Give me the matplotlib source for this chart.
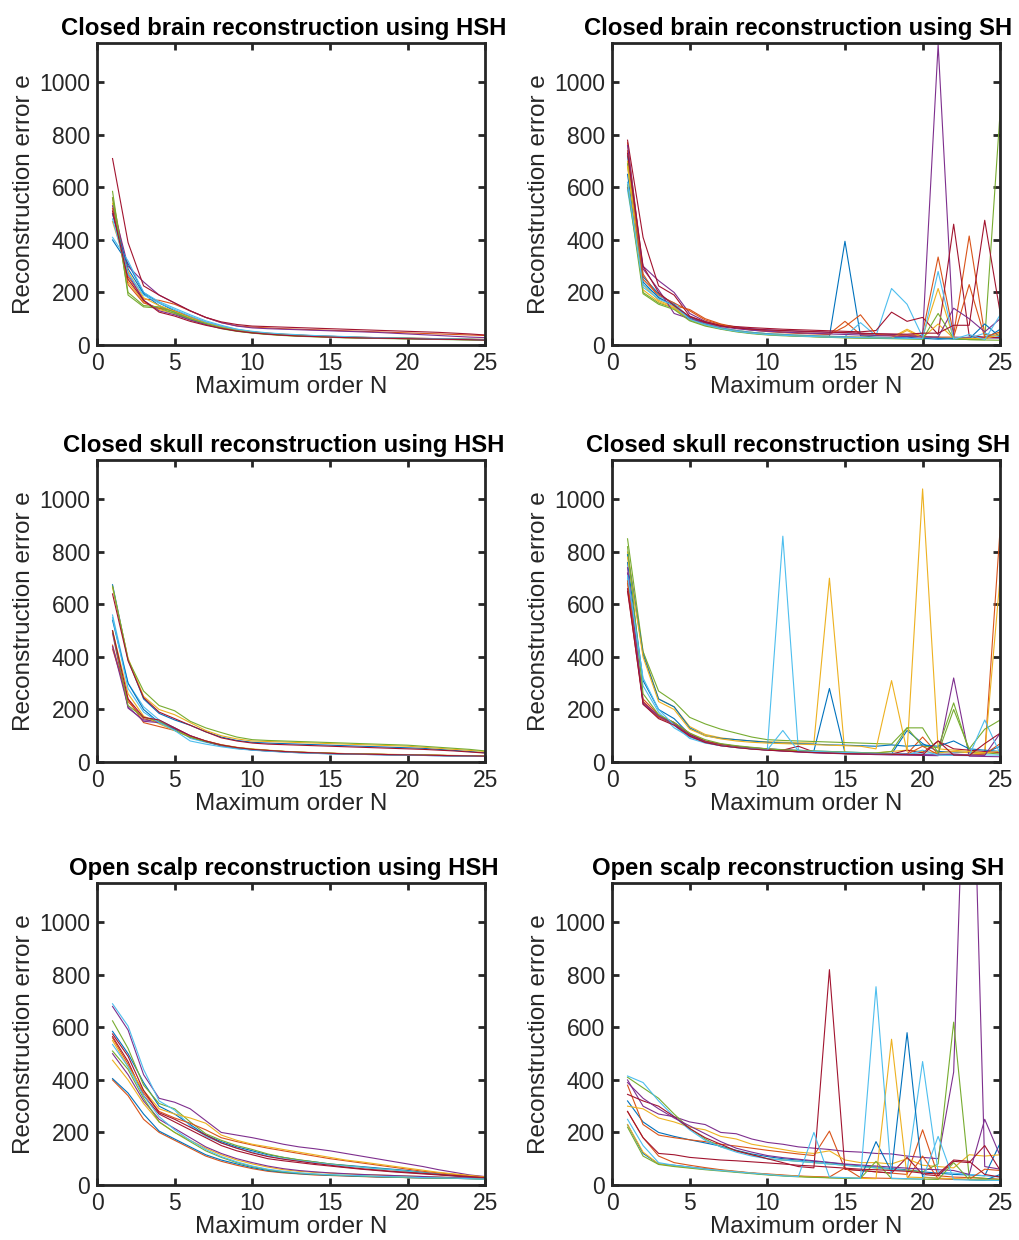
import numpy as np
import matplotlib
matplotlib.use("Agg")
import matplotlib.pyplot as plt

plt.rcParams['font.family'] = ['Liberation Sans', 'DejaVu Sans']

# maximum order N
orders = np.arange(1, 26)

# MATLAB default line colours
matlab_colors = ['#0072BD', '#D95319', '#EDB120', '#7E2F8E', '#77AC30', '#4DBEEE', '#A2142F']

titles = ['Closed brain reconstruction using HSH', 'Closed brain reconstruction using SH',
          'Closed skull reconstruction using HSH', 'Closed skull reconstruction using SH',
          'Open scalp reconstruction using HSH', 'Open scalp reconstruction using SH']

brain_hsh = [
    [400, 310, 200, 160, 130, 105, 85, 68, 55, 47, 42, 38, 35, 33, 31, 29, 27, 26, 25, 24, 23, 22, 21, 20, 19],
    [560, 260, 175, 170, 155, 130, 105, 85, 73, 68, 65, 62, 60, 58, 56, 54, 52, 50, 48, 46, 44, 42, 40, 38, 36],
    [540, 240, 165, 135, 120, 100, 80, 65, 53, 46, 41, 37, 34, 32, 30, 28, 27, 26, 25, 24, 23, 22, 21, 20, 19],
    [530, 300, 240, 190, 160, 130, 105, 85, 72, 65, 62, 60, 58, 56, 54, 52, 50, 48, 45, 42, 39, 36, 33, 30, 28],
    [585, 190, 145, 140, 120, 95, 78, 62, 52, 45, 40, 36, 33, 31, 29, 27, 26, 25, 24, 23, 22, 21, 20, 19, 18],
    [410, 320, 200, 165, 140, 115, 92, 75, 60, 50, 44, 40, 37, 34, 32, 30, 28, 27, 26, 25, 24, 23, 22, 21, 20],
    [710, 390, 225, 190, 160, 130, 105, 88, 78, 72, 70, 68, 66, 64, 62, 60, 58, 56, 54, 52, 50, 48, 45, 42, 38],
    [500, 290, 195, 150, 125, 100, 82, 66, 55, 48, 43, 40, 37, 35, 33, 31, 29, 27, 26, 25, 24, 23, 22, 21, 20],
    [520, 230, 160, 140, 130, 108, 86, 70, 58, 50, 45, 41, 38, 35, 33, 31, 29, 28, 27, 26, 25, 24, 23, 22, 21],
    [470, 280, 180, 150, 128, 104, 84, 68, 56, 49, 44, 40, 37, 34, 32, 30, 29, 28, 27, 26, 25, 24, 23, 22, 21],
    [500, 270, 170, 130, 115, 95, 78, 64, 54, 47, 42, 38, 35, 33, 31, 29, 28, 27, 26, 25, 24, 23, 22, 21, 20],
    [560, 200, 150, 145, 125, 100, 82, 66, 55, 47, 42, 38, 35, 33, 31, 29, 28, 27, 26, 25, 24, 23, 22, 21, 20],
    [480, 270, 190, 160, 135, 110, 88, 72, 60, 52, 46, 42, 39, 36, 34, 32, 30, 28, 27, 26, 25, 24, 23, 22, 21],
    [510, 250, 170, 125, 110, 90, 75, 63, 53, 46, 41, 37, 34, 32, 30, 28, 27, 26, 25, 24, 23, 22, 21, 20, 19],
]

brain_sh = [
    [720, 260, 195, 155, 105, 82, 65, 55, 48, 43, 40, 37, 35, 33, 395, 35, 30, 28, 26, 35, 25, 24, 30, 22, 60],
    [770, 270, 180, 150, 135, 100, 80, 68, 60, 54, 50, 47, 45, 42, 90, 40, 38, 36, 34, 45, 335, 40, 415, 40, 35],
    [700, 230, 170, 145, 100, 80, 65, 55, 48, 43, 40, 37, 35, 33, 31, 30, 29, 28, 60, 30, 215, 25, 24, 23, 45],
    [600, 300, 245, 200, 120, 90, 75, 68, 62, 58, 55, 52, 50, 48, 46, 44, 42, 40, 38, 36, 1145, 30, 28, 27, 26],
    [690, 200, 160, 140, 95, 75, 62, 52, 45, 40, 37, 34, 32, 30, 28, 27, 26, 25, 24, 23, 30, 22, 21, 20, 895],
    [590, 230, 185, 160, 100, 80, 65, 55, 48, 43, 40, 37, 35, 33, 32, 85, 35, 215, 155, 30, 28, 26, 25, 45, 30],
    [780, 410, 225, 190, 110, 88, 75, 70, 66, 63, 60, 58, 56, 54, 52, 50, 55, 125, 90, 105, 40, 460, 35, 30, 28],
    [650, 240, 180, 150, 100, 78, 63, 53, 46, 41, 38, 35, 33, 31, 30, 29, 28, 27, 26, 25, 22, 24, 23, 80, 30],
    [740, 250, 190, 160, 130, 95, 78, 65, 57, 51, 47, 44, 42, 40, 70, 115, 40, 36, 34, 32, 30, 30, 230, 30, 50],
    [680, 210, 165, 140, 98, 76, 62, 52, 45, 40, 37, 34, 32, 30, 29, 28, 27, 26, 55, 28, 80, 26, 25, 24, 40],
    [760, 290, 210, 120, 100, 85, 70, 62, 56, 52, 49, 46, 44, 42, 40, 38, 36, 34, 32, 30, 30, 140, 100, 50, 100],
    [610, 195, 155, 135, 92, 72, 60, 50, 43, 38, 35, 33, 31, 29, 27, 26, 25, 24, 23, 22, 120, 25, 20, 19, 18],
    [620, 220, 175, 150, 98, 77, 62, 52, 45, 40, 37, 34, 32, 30, 29, 28, 27, 26, 25, 24, 280, 22, 40, 20, 115],
    [730, 300, 200, 150, 108, 86, 72, 65, 60, 57, 55, 53, 51, 49, 47, 45, 43, 42, 41, 45, 45, 75, 75, 475, 120],
]

skull_hsh = [
    [675, 390, 240, 185, 160, 140, 115, 95, 82, 75, 72, 70, 68, 66, 64, 62, 60, 58, 56, 54, 52, 48, 44, 40, 35],
    [445, 230, 165, 150, 125, 95, 78, 62, 52, 46, 42, 39, 36, 34, 32, 31, 30, 29, 28, 27, 26, 25, 24, 23, 22],
    [665, 395, 250, 200, 180, 150, 120, 100, 88, 80, 78, 76, 74, 72, 70, 68, 66, 64, 62, 60, 56, 52, 48, 44, 40],
    [490, 205, 160, 155, 130, 100, 80, 65, 55, 48, 44, 40, 37, 35, 33, 31, 30, 29, 28, 27, 26, 25, 24, 23, 22],
    [670, 390, 270, 215, 195, 155, 130, 112, 95, 85, 82, 80, 78, 76, 74, 72, 70, 68, 66, 64, 60, 56, 52, 48, 42],
    [560, 300, 210, 160, 130, 90, 75, 62, 52, 46, 42, 38, 35, 33, 31, 30, 29, 28, 27, 26, 25, 24, 23, 22, 21],
    [640, 385, 245, 190, 165, 140, 115, 92, 80, 72, 68, 66, 64, 62, 60, 58, 56, 54, 52, 50, 48, 45, 42, 38, 34],
    [540, 300, 200, 150, 125, 95, 78, 63, 53, 47, 43, 40, 37, 35, 33, 31, 30, 29, 28, 27, 26, 25, 24, 23, 22],
    [430, 240, 150, 135, 120, 95, 80, 64, 55, 48, 44, 40, 37, 35, 33, 31, 30, 29, 28, 27, 26, 25, 24, 23, 22],
    [500, 260, 175, 145, 120, 98, 80, 66, 56, 50, 45, 41, 38, 36, 34, 32, 31, 30, 29, 28, 27, 26, 25, 24, 23],
    [440, 210, 155, 150, 128, 100, 78, 62, 52, 46, 42, 39, 36, 34, 32, 30, 29, 28, 27, 26, 25, 24, 23, 22, 21],
    [500, 215, 170, 155, 120, 95, 78, 64, 54, 48, 44, 40, 37, 35, 33, 31, 30, 29, 28, 27, 26, 25, 24, 23, 22],
    [550, 280, 190, 150, 120, 80, 68, 58, 50, 45, 41, 38, 35, 33, 31, 30, 29, 28, 27, 26, 25, 24, 23, 22, 21],
    [500, 240, 170, 160, 130, 100, 80, 65, 55, 48, 44, 40, 37, 35, 33, 31, 30, 29, 28, 27, 26, 25, 24, 23, 22],
]

skull_sh = [
    [760, 310, 200, 165, 105, 80, 68, 60, 54, 50, 47, 44, 42, 280, 35, 33, 32, 30, 120, 70, 40, 38, 36, 34, 60],
    [680, 240, 180, 150, 110, 80, 68, 60, 54, 50, 46, 43, 40, 38, 36, 34, 33, 32, 31, 95, 30, 29, 28, 30, 895],
    [800, 420, 240, 210, 135, 105, 92, 85, 80, 77, 75, 73, 72, 700, 30, 30, 35, 40, 45, 40, 35, 40, 35, 30, 710],
    [720, 220, 170, 145, 100, 75, 62, 55, 50, 45, 42, 38, 35, 33, 31, 30, 28, 27, 26, 25, 24, 320, 22, 21, 20],
    [850, 420, 270, 230, 170, 145, 125, 110, 95, 85, 82, 80, 78, 76, 74, 72, 70, 68, 130, 60, 55, 225, 40, 35, 30],
    [700, 290, 190, 130, 95, 75, 65, 58, 52, 48, 860, 45, 42, 40, 38, 36, 34, 33, 32, 31, 30, 29, 28, 27, 26],
    [650, 230, 175, 150, 105, 78, 66, 58, 52, 48, 45, 60, 38, 35, 33, 32, 31, 30, 45, 35, 80, 50, 45, 40, 35],
    [790, 410, 240, 210, 130, 100, 90, 85, 80, 75, 72, 70, 68, 65, 64, 62, 60, 65, 60, 65, 60, 80, 50, 45, 40],
    [690, 230, 170, 145, 100, 76, 64, 56, 50, 46, 43, 40, 38, 36, 34, 33, 32, 30, 29, 60, 28, 27, 26, 30, 70],
    [780, 400, 230, 200, 125, 100, 88, 80, 75, 72, 70, 68, 66, 64, 62, 60, 50, 310, 40, 1040, 50, 45, 40, 35, 40],
    [740, 225, 175, 145, 102, 76, 63, 56, 50, 46, 42, 39, 36, 34, 32, 30, 29, 28, 30, 28, 27, 30, 26, 25, 110],
    [820, 260, 180, 150, 110, 85, 70, 62, 56, 50, 46, 44, 42, 40, 38, 36, 34, 40, 130, 130, 35, 200, 50, 125, 160],
    [710, 320, 200, 140, 90, 72, 62, 55, 50, 46, 120, 42, 40, 38, 36, 34, 32, 30, 28, 45, 26, 25, 24, 160, 30],
    [660, 220, 165, 140, 98, 74, 62, 55, 49, 45, 42, 39, 36, 34, 32, 31, 30, 29, 28, 27, 80, 26, 25, 70, 110],
]

scalp_hsh = [
    [585, 500, 390, 300, 270, 230, 190, 165, 145, 130, 115, 105, 95, 88, 80, 75, 70, 65, 60, 55, 48, 42, 36, 30, 25],
    [400, 340, 250, 200, 170, 140, 110, 90, 75, 62, 52, 46, 42, 38, 36, 34, 32, 30, 29, 28, 27, 26, 25, 24, 23],
    [475, 400, 310, 240, 200, 170, 140, 115, 95, 80, 68, 58, 52, 48, 45, 42, 40, 38, 36, 34, 32, 30, 28, 26, 25],
    [680, 590, 420, 330, 315, 290, 245, 200, 190, 180, 168, 155, 145, 138, 130, 120, 110, 100, 90, 80, 70, 58, 48, 38, 32],
    [625, 520, 380, 310, 290, 240, 195, 170, 150, 135, 118, 105, 96, 88, 80, 74, 68, 62, 58, 52, 46, 40, 35, 30, 25],
    [690, 605, 440, 320, 285, 225, 185, 160, 140, 125, 110, 100, 92, 85, 78, 72, 68, 62, 58, 52, 46, 40, 34, 28, 24],
    [565, 470, 340, 270, 240, 210, 180, 150, 130, 115, 100, 92, 85, 78, 72, 66, 60, 55, 50, 46, 42, 38, 34, 30, 27],
    [405, 350, 270, 205, 175, 145, 115, 95, 80, 66, 55, 48, 43, 40, 37, 35, 33, 31, 30, 28, 27, 26, 25, 24, 23],
    [560, 460, 350, 280, 255, 235, 210, 180, 165, 152, 140, 130, 120, 110, 100, 92, 84, 76, 68, 60, 52, 46, 40, 35, 30],
    [550, 450, 360, 290, 270, 255, 235, 190, 170, 155, 145, 135, 125, 115, 105, 95, 88, 80, 72, 64, 56, 48, 42, 36, 30],
    [500, 420, 320, 250, 215, 180, 145, 120, 100, 85, 72, 62, 55, 50, 46, 43, 40, 38, 36, 34, 32, 30, 28, 26, 24],
    [510, 440, 330, 240, 200, 165, 130, 105, 85, 70, 58, 50, 45, 41, 38, 36, 34, 32, 30, 28, 27, 26, 25, 24, 22],
    [535, 450, 340, 260, 210, 170, 135, 108, 88, 72, 60, 52, 46, 42, 39, 37, 35, 33, 31, 30, 28, 27, 26, 24, 22],
    [575, 490, 360, 275, 250, 220, 190, 160, 140, 122, 108, 98, 90, 82, 75, 68, 62, 57, 52, 48, 44, 40, 36, 32, 28],
]

scalp_sh = [
    [320, 240, 200, 185, 172, 160, 148, 132, 118, 108, 100, 95, 90, 85, 78, 72, 68, 62, 58, 50, 45, 40, 38, 35, 160],
    [380, 230, 190, 180, 172, 165, 155, 148, 140, 132, 125, 118, 112, 205, 60, 55, 50, 45, 40, 210, 35, 30, 28, 25, 22],
    [300, 290, 255, 240, 220, 210, 185, 175, 155, 145, 135, 125, 120, 130, 95, 85, 85, 80, 100, 75, 70, 65, 115, 110, 115],
    [400, 300, 270, 260, 240, 230, 200, 195, 175, 162, 155, 145, 140, 135, 128, 125, 120, 118, 110, 105, 100, 430, 2230, 70, 60],
    [410, 370, 330, 270, 215, 175, 145, 130, 115, 100, 95, 90, 85, 80, 75, 70, 65, 60, 55, 50, 80, 620, 30, 25, 20],
    [415, 390, 320, 260, 210, 170, 145, 125, 110, 100, 95, 90, 85, 80, 75, 70, 65, 60, 55, 470, 50, 45, 40, 35, 30],
    [345, 320, 300, 260, 215, 180, 155, 130, 115, 100, 85, 70, 65, 820, 60, 55, 50, 45, 105, 40, 35, 90, 85, 150, 55],
    [230, 120, 80, 75, 68, 62, 56, 50, 45, 40, 36, 33, 30, 28, 26, 25, 165, 50, 580, 30, 25, 22, 20, 18, 40],
    [280, 180, 110, 85, 75, 66, 58, 52, 46, 42, 38, 34, 32, 30, 65, 28, 26, 25, 24, 110, 23, 22, 21, 60, 55],
    [230, 125, 80, 72, 66, 60, 55, 50, 45, 40, 36, 33, 30, 28, 26, 25, 24, 555, 30, 28, 26, 24, 22, 20, 18],
    [390, 330, 290, 255, 225, 195, 165, 140, 125, 112, 104, 98, 92, 86, 80, 76, 72, 68, 64, 60, 58, 55, 40, 250, 110],
    [220, 110, 78, 70, 64, 58, 53, 48, 43, 38, 34, 31, 29, 27, 26, 25, 90, 24, 23, 22, 21, 85, 20, 19, 18],
    [250, 150, 85, 75, 68, 60, 55, 50, 45, 40, 35, 32, 200, 30, 28, 25, 755, 25, 24, 22, 185, 20, 19, 18, 17],
    [280, 180, 120, 115, 105, 100, 95, 92, 88, 84, 80, 75, 72, 68, 64, 60, 58, 55, 52, 45, 42, 95, 90, 40, 30],
]

panels = [brain_hsh, brain_sh, skull_hsh, skull_sh, scalp_hsh, scalp_sh]

fig = plt.figure(figsize=(10.19, 12.4), dpi=100)
lefts = [0.0952, 0.6006]
bottoms = [0.7218, 0.3855, 0.0444]
dark = '#262626'

for k, (title, data) in enumerate(zip(titles, panels)):
    ax = fig.add_axes([lefts[k % 2], bottoms[k // 2], 0.381, 0.2435])
    for i, series in enumerate(data):
        ax.plot(orders, series, color=matlab_colors[i % 7], lw=0.8)
    ax.set_xlim(0, 25)
    ax.set_ylim(0, 1150)
    ax.set_xticks([0, 5, 10, 15, 20, 25])
    ax.set_yticks([0, 200, 400, 600, 800, 1000])
    ax.tick_params(direction='in', length=5, width=2, colors=dark, labelsize=16.5,
                   top=True, right=True, pad=5)
    for sp in ax.spines.values():
        sp.set_linewidth(2)
        sp.set_color(dark)
    ax.set_title(title, fontsize=17.2, fontweight='bold', x=0.48, pad=6)
    ax.set_xlabel('Maximum order N', fontsize=17.5, color=dark, labelpad=1)
    ax.set_ylabel('Reconstruction error e', fontsize=17.5, color=dark, labelpad=3)

fig.savefig('out.png', dpi=100)
